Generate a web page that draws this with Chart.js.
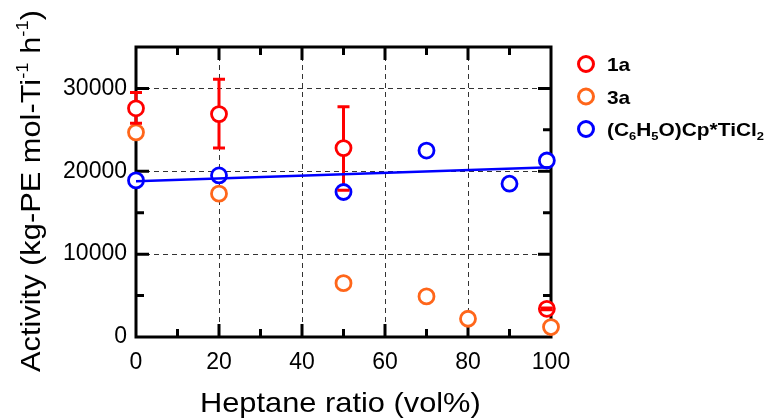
<!DOCTYPE html>
<html>
<head>
<meta charset="utf-8">
<script src="https://cdn.jsdelivr.net/npm/chart.js@4.4.1/dist/chart.umd.min.js"></script>
<style>
  html, body { margin: 0; padding: 0; background: #fff; }
</style>
</head>
<body>
<canvas id="myChart" width="771" height="419"></canvas>
<script>
// values
const heptane1a = [0, 20, 50, 99];
const activity1a = [27600, 26900, 22800, 3400];
const err1aLow = [25800, 22800, 17700, 3300];
const err1aHigh = [29500, 31100, 27800, 3500];

const heptane3a = [0, 20, 50, 70, 80, 100];
const activity3a = [24700, 17300, 6500, 4900, 2200, 1200];

const heptaneCp = [0, 20, 50, 70, 90, 99];
const activityCp = [18900, 19500, 17500, 22500, 18500, 21300];

// straight fit line through the Cp* series
const fitX = [0, 100];
const fitY = [18800, 20500];

const xTicks = [0, 20, 40, 60, 80, 100];
const yTicks = [0, 10000, 20000, 30000];

const RED = 'rgb(255,0,0)';
const ORANGE = 'rgb(255,102,26)';
const BLUE = 'rgb(0,0,255)';
const FONT = "'Liberation Sans', Arial, sans-serif";

Chart.defaults.font.family = FONT;

function pts(xs, ys) {
    return xs.map((v, i) => ({ x: v, y: ys[i] }));
}

// draws text made of normal / sub / sup pieces, stretched a little sideways
function richText(ctx, parts, size, bold) {
    let x = 0;
    const w = bold ? 'bold ' : '';
    parts.forEach(p => {
        let s = size, dy = 0;
        if (p.sub) { s = size * 0.62; dy = size * 0.22; }
        if (p.sup) { s = size * 0.6; dy = -size * 0.42; }
        ctx.font = w + s + 'px ' + FONT;
        ctx.fillText(p.t, x, dy);
        x += ctx.measureText(p.t).width;
    });
}

const frame = {
    id: 'frame',
    beforeDatasetsDraw(chart) {
        const { ctx, chartArea: a, scales: { x, y } } = chart;
        ctx.save();
        ctx.strokeStyle = '#000';
        ctx.lineWidth = 3;
        ctx.beginPath();
        for (let v = 10; v < 100; v += 10) {
            const px = x.getPixelForValue(v);
            const len = v % 20 === 0 ? 13 : 8;
            ctx.moveTo(px, a.bottom); ctx.lineTo(px, a.bottom - len);
            ctx.moveTo(px, a.top); ctx.lineTo(px, a.top + len);
        }
        for (let v = 5000; v < 35000; v += 5000) {
            const py = y.getPixelForValue(v);
            const len = v % 10000 === 0 ? 13 : 8;
            ctx.moveTo(a.left, py); ctx.lineTo(a.left + len, py);
            ctx.moveTo(a.right, py); ctx.lineTo(a.right - len, py);
        }
        ctx.stroke();
        ctx.strokeRect(a.left, a.top, a.right - a.left, a.bottom - a.top);

        // error bar stems, under the circles
        ctx.strokeStyle = RED;
        ctx.lineWidth = 3;
        ctx.beginPath();
        heptane1a.forEach((v, i) => {
            const px = x.getPixelForValue(v);
            ctx.moveTo(px, y.getPixelForValue(err1aLow[i]));
            ctx.lineTo(px, y.getPixelForValue(err1aHigh[i]));
        });
        ctx.stroke();
        ctx.restore();
    },
    afterDatasetsDraw(chart) {
        const { ctx, scales: { x, y } } = chart;
        ctx.save();
        // error bar caps
        ctx.strokeStyle = RED;
        ctx.lineWidth = 3;
        ctx.beginPath();
        heptane1a.forEach((v, i) => {
            const px = x.getPixelForValue(v);
            [err1aLow[i], err1aHigh[i]].forEach(e => {
                const py = y.getPixelForValue(e);
                ctx.moveTo(px - 6, py); ctx.lineTo(px + 6, py);
            });
        });
        ctx.stroke();
        ctx.restore();
    },
    afterDraw(chart) {
        const { ctx } = chart;
        ctx.save();
        ctx.fillStyle = '#000';
        ctx.textBaseline = 'alphabetic';
        ctx.textAlign = 'left';

        // x title
        ctx.save();
        ctx.translate(200, 412);
        ctx.scale(1.1, 1);
        richText(ctx, [{ t: 'Heptane ratio (vol%)' }], 28, false);
        ctx.restore();

        // y title
        ctx.save();
        ctx.translate(40, 372);
        ctx.rotate(-Math.PI / 2);
        ctx.scale(1.1, 1);
        richText(ctx, [
            { t: 'Activity (kg-PE mol-Ti' }, { t: '-1', sup: true },
            { t: ' h' }, { t: '-1', sup: true }, { t: ')' }
        ], 28, false);
        ctx.restore();

        // legend
        const items = [
            { color: RED, parts: [{ t: '1a' }] },
            { color: ORANGE, parts: [{ t: '3a' }] },
            { color: BLUE, parts: [{ t: '(C' }, { t: '6', sub: true }, { t: 'H' }, { t: '5', sub: true },
                                   { t: 'O)Cp*TiCl' }, { t: '2', sub: true }] }
        ];
        items.forEach((it, i) => {
            const cy = 64 + i * 32.5;
            ctx.beginPath();
            ctx.arc(586, cy, 7.5, 0, Math.PI * 2);
            ctx.lineWidth = 3;
            ctx.strokeStyle = it.color;
            ctx.stroke();
            ctx.save();
            ctx.translate(607, cy + 7);
            ctx.scale(1.1, 1);
            richText(ctx, it.parts, 19, true);
            ctx.restore();
        });
        ctx.restore();
    }
};

const gridColor = c => (c.tick && (c.tick.value === 0 || c.tick.value === 100 || c.tick.value === 35000)) ? 'rgba(0,0,0,0)' : '#333';

const circle = (label, data, color, order) => ({
    label: label,
    data: data,
    borderColor: color,
    backgroundColor: '#fff',
    pointRadius: 7.5,
    pointBorderWidth: 2.8,
    borderWidth: 2.8,
    showLine: false,
    clip: false,
    order: order
});

const ctx = document.getElementById('myChart').getContext('2d');
const myChart = new Chart(ctx, {
    type: 'scatter',
    data: {
        datasets: [
            {
                label: 'fit',
                type: 'line',
                data: pts(fitX, fitY),
                borderColor: BLUE,
                borderWidth: 2.5,
                pointRadius: 0,
                fill: false,
                order: 0
            },
            circle('1a', pts(heptane1a, activity1a), RED, 3),
            circle('3a', pts(heptane3a, activity3a), ORANGE, 2),
            circle('(C6H5O)Cp*TiCl2', pts(heptaneCp, activityCp), BLUE, 1)
        ]
    },
    options: {
        responsive: false,
        animation: false,
        layout: { padding: { left: 0, right: 220, top: 47, bottom: 0 } },
        plugins: { legend: { display: false }, tooltip: { enabled: false } },
        scales: {
            x: {
                type: 'linear',
                min: 0,
                max: 100,
                afterBuildTicks: s => { s.ticks = xTicks.map(v => ({ value: v })); },
                afterFit: s => { s.height = 82; },
                grid: { color: gridColor, lineWidth: 1, drawTicks: false },
                border: { display: false, dash: [5, 4] },
                ticks: { padding: 12, color: '#000', font: { size: 23 }, callback: v => String(v) }
            },
            y: {
                type: 'linear',
                min: 0,
                max: 35000,
                afterBuildTicks: s => { s.ticks = yTicks.map(v => ({ value: v })); },
                afterFit: s => { s.width = 136; },
                grid: { color: gridColor, lineWidth: 1, drawTicks: false },
                border: { display: false, dash: [5, 4] },
                ticks: { padding: 9, color: '#000', font: { size: 23 }, callback: v => String(v) }
            }
        }
    },
    plugins: [frame]
});
</script>
</body>
</html>
